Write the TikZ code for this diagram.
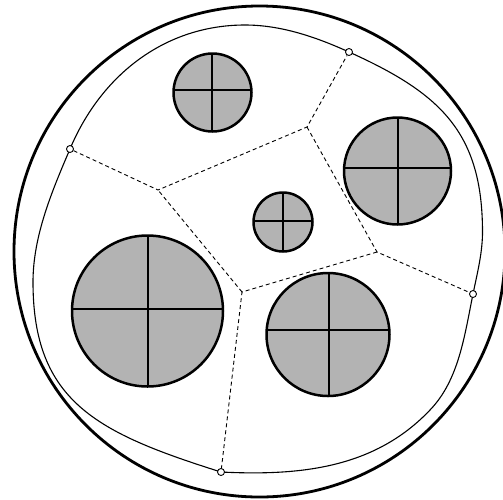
\documentclass[tikz,border=0pt]{standalone}
\usetikzlibrary{calc}
\definecolor{cellgray}{HTML}{B3B3B3}
\tikzset{
  outerring/.style={line width=2.8pt},
  boundary/.style={line width=1.1pt},
  voronoi/.style={line width=0.9pt, dash pattern=on 4pt off 3pt},
  cellborder/.style={line width=2.5pt},
  crossline/.style={line width=2.5pt},
  site/.style={circle, draw, fill=white, line width=0.9pt, inner sep=0pt, minimum size=7pt}
}
\newcommand{\cellcirc}[5]{%
  \fill[cellgray] (#1,#2) circle[radius=#3];
  \begin{scope}
    \clip (#1,#2) circle[radius=#3];
    \draw[crossline] (#4,#2-#3-3) -- (#4,#2+#3+3);
    \draw[crossline] (#1-#3-3,#5) -- (#1+#3+3,#5);
  \end{scope}
  \draw[cellborder] (#1,#2) circle[radius=#3];
}
\begin{document}
\begin{tikzpicture}[x=1pt,y=-1pt]
\useasboundingbox (0,0) rectangle (503,499);
\fill[white] (0,0) rectangle (503,499);
% outer ring
\draw[outerring] (259.5,251.5) circle[radius=245.5];
% inner boundary
\draw[boundary] (245,25)
  .. controls (281,25) and (316,37) .. (349,52)
  .. controls (440,93) and (482.5,132) .. (482.5,232)
  .. controls (482.5,253) and (477.2,273.4) .. (473,294)
  .. controls (464.6,335) and (459,380) .. (430,410)
  .. controls (375,468) and (301,476) .. (221,472)
  .. controls (97.5,433) and (33,402) .. (33,282)
  .. controls (33,236) and (52,191) .. (70,149)
  .. controls (101,75) and (165,25) .. cycle;
% voronoi vertices
\coordinate (A) at (158,190);
\coordinate (B) at (307,127);
\coordinate (C) at (377,252);
\coordinate (D) at (242,292);
% boundary sites
\node[site] (p1) at (70,149) {};
\node[site] (p2) at (349,52) {};
\node[site] (p3) at (473,294) {};
\node[site] (p4) at (221,472) {};
\draw[voronoi] (p1) -- (A) -- (B) -- (p2);
\draw[voronoi] (B) -- (C) -- (p3);
\draw[voronoi] (C) -- (D) -- (p4);
\draw[voronoi] (D) -- (A);
% cells
\cellcirc{212.5}{92.5}{39}{212}{90}
\cellcirc{397.5}{171}{53.5}{398}{168}
\cellcirc{283}{222}{29.5}{283}{221}
\cellcirc{147.5}{311}{75.5}{148}{309}
\cellcirc{328}{334.5}{61.5}{329}{330}
\end{tikzpicture}
\end{document}
